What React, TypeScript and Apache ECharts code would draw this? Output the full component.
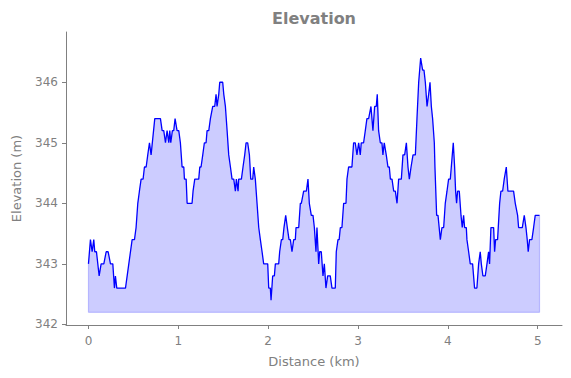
import React, { useEffect, useRef } from "react";
import * as echarts from "echarts";

const distanceKm = [
  0.0, 0.022, 0.041, 0.059, 0.07, 0.089, 0.119, 0.141, 0.171, 0.197, 0.219, 0.245, 0.271, 0.289, 0.3, 0.315,
  0.412, 0.449, 0.486, 0.512, 0.53, 0.549, 0.567, 0.586, 0.608, 0.623, 0.642, 0.66, 0.679, 0.697, 0.738, 0.801,
  0.82, 0.838, 0.857, 0.875, 0.894, 0.905, 0.916, 0.934, 0.949, 0.964, 0.986, 1.005, 1.023, 1.042, 1.061, 1.068,
  1.087, 1.098, 1.153, 1.164, 1.183, 1.227, 1.239, 1.253, 1.272, 1.29, 1.309, 1.32, 1.339, 1.357, 1.383, 1.405,
  1.42, 1.431, 1.45, 1.461, 1.494, 1.506, 1.524, 1.543, 1.561, 1.58, 1.598, 1.617, 1.635, 1.646, 1.665, 1.672,
  1.702, 1.72, 1.739, 1.754, 1.772, 1.791, 1.806, 1.828, 1.839, 1.857, 1.876, 1.895, 1.913, 1.932, 1.95, 1.995,
  2.006, 2.024, 2.032, 2.05, 2.069, 2.08, 2.117, 2.128, 2.147, 2.162, 2.176, 2.195, 2.213, 2.232, 2.247, 2.265,
  2.284, 2.302, 2.31, 2.34, 2.358, 2.369, 2.395, 2.425, 2.443, 2.458, 2.48, 2.499, 2.514, 2.532, 2.543, 2.562,
  2.573, 2.591, 2.61, 2.625, 2.643, 2.662, 2.691, 2.71, 2.747, 2.758, 2.777, 2.79, 2.803, 2.821, 2.84, 2.866,
  2.877, 2.895, 2.932, 2.951, 2.969, 2.988, 3.007, 3.025, 3.036, 3.062, 3.081, 3.099, 3.118, 3.144, 3.166, 3.185,
  3.203, 3.214, 3.229, 3.248, 3.266, 3.277, 3.292, 3.314, 3.333, 3.348, 3.36, 3.378, 3.397, 3.415, 3.434, 3.452,
  3.482, 3.5, 3.519, 3.538, 3.556, 3.571, 3.59, 3.612, 3.638, 3.656, 3.675, 3.697, 3.719, 3.734, 3.749, 3.768,
  3.786, 3.801, 3.816, 3.83, 3.849, 3.856, 3.875, 3.89, 3.916, 3.934, 3.953, 3.971, 3.99, 4.008, 4.027, 4.038,
  4.06, 4.075, 4.086, 4.097, 4.108, 4.127, 4.146, 4.16, 4.175, 4.186, 4.205, 4.212, 4.231, 4.249, 4.275, 4.297,
  4.323, 4.342, 4.36, 4.372, 4.39, 4.416, 4.435, 4.453, 4.464, 4.479, 4.509, 4.52, 4.531, 4.553, 4.576, 4.59,
  4.609, 4.627, 4.65, 4.668, 4.731, 4.75, 4.776, 4.787, 4.828, 4.85, 4.869, 4.883, 4.894, 4.909, 4.935, 4.954,
  4.972, 5.02,
];

const elevationM = [
  343.0, 343.4, 343.2, 343.4, 343.2, 343.2, 342.8, 343.0, 343.0, 343.2, 343.2, 343.0, 343.0, 342.6, 342.8, 342.6,
  342.6, 343.0, 343.4, 343.4, 343.6, 344.0, 344.2, 344.4, 344.4, 344.6, 344.6, 344.8, 345.0, 344.8, 345.4, 345.4,
  345.2, 345.2, 345.0, 345.2, 345.0, 345.2, 345.0, 345.2, 345.2, 345.4, 345.2, 345.2, 345.0, 344.6, 344.6, 344.4,
  344.4, 344.0, 344.0, 344.2, 344.4, 344.4, 344.6, 344.6, 344.8, 345.0, 345.0, 345.2, 345.2, 345.4, 345.6, 345.6,
  345.8, 345.6, 345.8, 346.0, 346.0, 345.8, 345.6, 345.2, 344.8, 344.6, 344.4, 344.4, 344.2, 344.4, 344.2, 344.4,
  344.4, 344.6, 344.8, 345.0, 345.0, 344.8, 344.4, 344.4, 344.6, 344.4, 344.0, 343.6, 343.4, 343.2, 343.0, 343.0,
  342.6, 342.6, 342.4, 342.8, 342.8, 343.0, 343.0, 343.2, 343.4, 343.4, 343.6, 343.8, 343.6, 343.4, 343.4, 343.2,
  343.4, 343.4, 343.6, 343.6, 344.0, 344.0, 344.2, 344.2, 344.4, 344.0, 343.8, 343.8, 343.6, 343.2, 343.6, 343.0,
  343.2, 343.2, 342.8, 343.0, 342.6, 342.8, 342.8, 342.6, 342.6, 343.2, 343.4, 343.4, 343.6, 343.6, 344.0, 344.0,
  344.4, 344.6, 344.6, 345.0, 345.0, 344.8, 345.0, 344.8, 345.0, 345.0, 345.2, 345.4, 345.4, 345.6, 345.2, 345.6,
  345.6, 345.8, 345.2, 345.0, 345.0, 344.8, 345.0, 344.8, 344.6, 344.6, 344.4, 344.4, 344.2, 344.2, 344.0, 344.4,
  344.4, 344.8, 344.8, 345.0, 344.6, 344.4, 344.6, 344.8, 344.8, 345.4, 346.0, 346.4, 346.2, 346.2, 346.0, 345.6,
  345.8, 346.0, 345.6, 345.4, 345.0, 344.6, 343.8, 343.8, 343.4, 343.6, 343.6, 344.0, 344.2, 344.4, 344.4, 344.6,
  345.0, 344.6, 344.2, 344.0, 344.2, 344.2, 343.8, 343.6, 343.8, 343.6, 343.6, 343.4, 343.2, 343.0, 343.0, 342.6,
  342.6, 343.0, 343.2, 343.0, 342.8, 342.8, 343.0, 343.2, 343.0, 343.6, 343.6, 343.2, 343.4, 343.4, 344.0, 344.2,
  344.2, 344.4, 344.6, 344.2, 344.2, 344.0, 343.8, 343.6, 343.6, 343.8, 343.6, 343.4, 343.2, 343.4, 343.4, 343.6,
  343.8, 343.8,
];

const fillBase = 342.2;
const xTicks = [0, 1, 2, 3, 4, 5];
const yTicks = [342, 343, 344, 345, 346];

const gray = "#808080";
const font = "DejaVu Sans";

export default function App() {
  const ref = useRef<HTMLDivElement>(null);

  useEffect(() => {
    if (!ref.current) return;
    const chart = echarts.init(ref.current, null, { renderer: "svg" });
    const profile = distanceKm.map((d, i) => [d, elevationM[i]]);
    const last = distanceKm.length - 1;
    const edge = [
      [distanceKm[0], elevationM[0]],
      [distanceKm[0], fillBase],
      [distanceKm[last], fillBase],
      [distanceKm[last], elevationM[last]],
    ];
    chart.setOption({
      animation: false,
      grid: { left: 66, right: 9, top: 32, bottom: 53 },
      graphic: [
        {
          type: "text",
          x: 314,
          y: 18,
          style: {
            text: "Elevation",
            fill: gray,
            font: `bold 16px "${font}"`,
            textAlign: "center",
            textVerticalAlign: "middle",
          },
        },
      ],
      xAxis: {
        type: "value",
        min: -0.25,
        max: 5.27,
        name: "Distance (km)",
        nameLocation: "middle",
        nameGap: 30,
        nameTextStyle: { color: gray, fontSize: 13, fontFamily: font },
        axisLine: { show: true, onZero: false, lineStyle: { color: gray, width: 1 } },
        axisTick: { show: true, length: 4, customValues: xTicks, lineStyle: { color: gray } },
        axisLabel: { customValues: xTicks, color: gray, fontSize: 12, fontFamily: font, margin: 10 },
        splitLine: { show: false },
      },
      yAxis: {
        type: "value",
        min: 341.99,
        max: 346.83,
        name: "Elevation (m)",
        nameLocation: "middle",
        nameGap: 43,
        nameTextStyle: { color: gray, fontSize: 13, fontFamily: font },
        axisLine: { show: true, onZero: false, lineStyle: { color: gray, width: 1 } },
        axisTick: { show: true, length: 4, customValues: yTicks, lineStyle: { color: gray } },
        axisLabel: { customValues: yTicks, color: gray, fontSize: 12, fontFamily: font, margin: 8 },
        splitLine: { show: false },
      },
      series: [
        {
          type: "line",
          data: profile,
          showSymbol: false,
          symbol: "none",
          lineStyle: { color: "#0000ff", width: 1.3 },
          areaStyle: { color: "rgba(0,0,255,0.2)", origin: fillBase, opacity: 1 },
          z: 3,
        },
        {
          type: "line",
          data: edge,
          showSymbol: false,
          symbol: "none",
          lineStyle: { color: "rgba(0,0,255,0.2)", width: 1.2 },
          z: 2,
        },
      ],
    });
    return () => chart.dispose();
  }, []);

  return (
    <div
      ref={ref}
      style={{ position: "absolute", left: 0, top: 0, width: 571, height: 378 }}
    />
  );
}
